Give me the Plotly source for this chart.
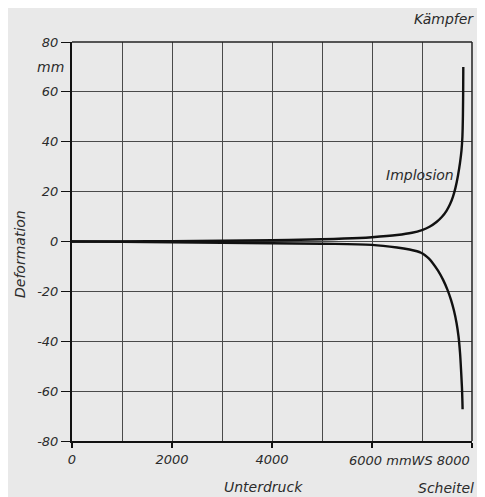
import plotly.graph_objects as go

# Data
pressure_upper = [0, 1000, 2000, 3000, 4000, 5000, 5750, 6000, 6500, 6800, 7000, 7150, 7290, 7400,
                  7490, 7560, 7620, 7670, 7720, 7760, 7790, 7808, 7818, 7823, 7826]
deform_upper = [0, 0.05, 0.15, 0.3, 0.5, 0.9, 1.4, 1.7, 2.6, 3.5, 4.6, 5.9, 7.8, 9.9,
                12.3, 14.9, 18.0, 21.6, 26.5, 31.5, 36.5, 42, 50, 59, 70]

pressure_lower = [0, 1000, 2000, 3000, 4000, 5000, 6000, 6500, 6750, 6900, 6980, 7060, 7140, 7220,
                  7320, 7420, 7510, 7580, 7640, 7690, 7730, 7760, 7785, 7800, 7808, 7812]
deform_lower = [0, -0.1, -0.3, -0.5, -0.7, -0.9, -1.35, -2.4, -3.2, -3.9, -4.5, -5.5, -6.9, -8.8,
                -11.7, -15.3, -19.4, -23.4, -27.8, -32.6, -38, -44.5, -53, -59, -64, -67.3]

x_tickvals = [0, 2000, 4000, 6000, 8000]
x_ticktext = ["0", "2000", "4000", "", ""]
y_tickvals = [-80, -60, -40, -20, 0, 20, 40, 60, 80]
y_ticktext = ["-80", "-60", "-40", "-20", "0", "20", "40", "60", "80"]

FONT = "DejaVu Sans"
TXT = "#2b2b2b"
GRID = "#4a4a4a"
BG = "#e9e9e9"

fig = go.Figure()
fig.add_trace(go.Scatter(x=pressure_upper, y=deform_upper, mode="lines",
                         line=dict(color="#111111", width=2.4, shape="spline", smoothing=1.0),
                         showlegend=False, hoverinfo="skip"))
fig.add_trace(go.Scatter(x=pressure_lower, y=deform_lower, mode="lines",
                         line=dict(color="#111111", width=2.4, shape="spline", smoothing=1.0),
                         showlegend=False, hoverinfo="skip"))

fig.update_layout(
    width=477, height=489,
    margin=dict(l=64, r=13, t=34, b=56),
    paper_bgcolor=BG, plot_bgcolor=BG,
    font=dict(family=FONT, size=13, color=TXT, style="italic"),
    showlegend=False,
)

fig.update_xaxes(
    range=[0, 8000], tickvals=x_tickvals, ticktext=x_ticktext,
    showgrid=False,
    minor=dict(dtick=1000, tick0=0, showgrid=True, gridcolor=GRID, gridwidth=1, ticks=""),
    showline=True, linecolor="#111111", linewidth=2, mirror=False,
    ticks="outside", ticklen=5, tickcolor="#111111", tickwidth=1.5,
    zeroline=False,
    tickfont=dict(family=FONT, size=13, color=TXT, style="italic"),
)
fig.update_yaxes(
    range=[-80, 80], tickvals=y_tickvals, ticktext=y_ticktext,
    showgrid=True, gridcolor=GRID, gridwidth=1,
    showline=True, linecolor="#111111", linewidth=2, mirror=False,
    ticks="outside", ticklen=9, tickcolor="#111111", tickwidth=1,
    zeroline=False,
    tickfont=dict(family=FONT, size=13, color=TXT, style="italic"),
)

# right and top border lines
fig.add_shape(type="line", xref="paper", yref="paper", x0=1, x1=1, y0=0, y1=1,
              line=dict(color="#222222", width=1.5))
fig.add_shape(type="line", xref="paper", yref="paper", x0=0, x1=1, y0=1, y1=1,
              line=dict(color="#222222", width=1.5))

ann_font = dict(family=FONT, size=14, color=TXT, style="italic")
fig.add_annotation(text="Kämpfer", xref="paper", yref="paper", x=1, y=1.058,
                   xanchor="right", yanchor="middle", xshift=4, showarrow=False, font=ann_font)
fig.add_annotation(text="mm", xref="paper", yref="y", x=0, y=70,
                   xanchor="right", yanchor="middle", xshift=-6, showarrow=False, font=ann_font)
fig.add_annotation(text="Deformation", xref="paper", yref="y", x=0, y=-5, textangle=-90,
                   xanchor="center", yanchor="middle", xshift=-52, showarrow=False, font=ann_font)
fig.add_annotation(text="Implosion", xref="x", yref="y", x=6958, y=26.7,
                   xanchor="center", yanchor="middle", showarrow=False, font=ann_font)
fig.add_annotation(text="Unterdruck", xref="x", yref="paper", x=3830, y=-0.115,
                   xanchor="center", yanchor="middle", showarrow=False, font=ann_font)
fig.add_annotation(text="Scheitel", xref="paper", yref="paper", x=1, y=-0.118,
                   xanchor="right", yanchor="middle", xshift=4, showarrow=False, font=ann_font)
fig.add_annotation(text="6000 mmWS 8000", xref="x", yref="paper", x=8000, y=-0.05,
                   xanchor="right", yanchor="middle", showarrow=False,
                   font=dict(family=FONT, size=13, color=TXT, style="italic"))

fig.write_html("out.html")
